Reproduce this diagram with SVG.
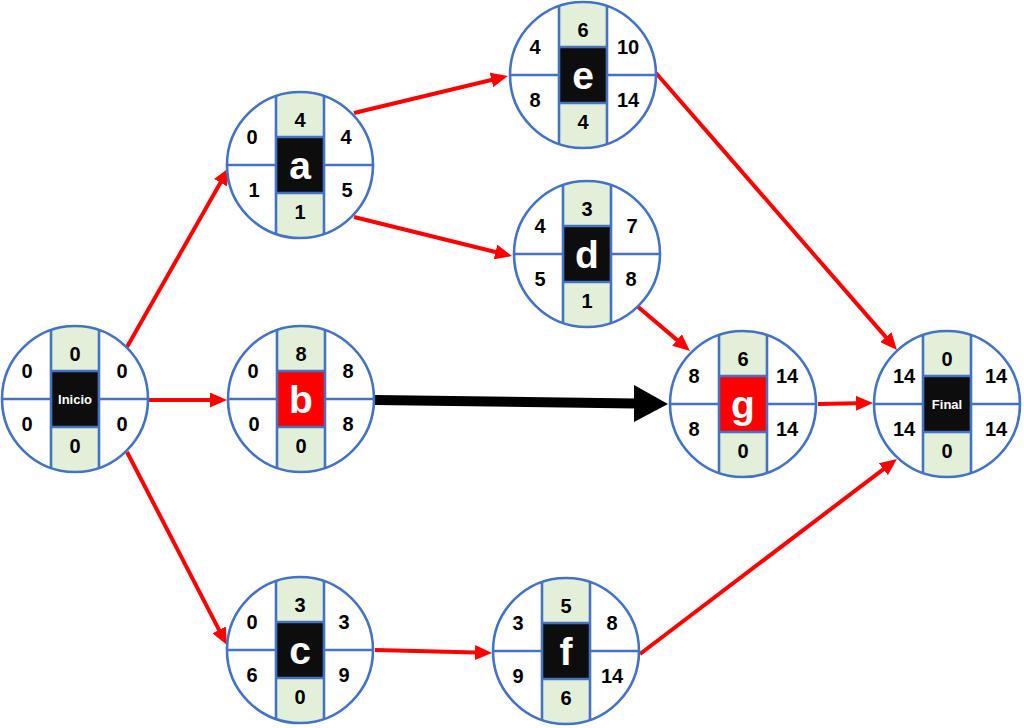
<svg xmlns="http://www.w3.org/2000/svg" xmlns:xlink="http://www.w3.org/1999/xlink" width="1024" height="728" viewBox="0 0 1024 728">
<style>
.bl{stroke:#4472C4;stroke-width:2.6;fill:none}
.num{font-family:"Liberation Sans",Arial,sans-serif;font-weight:bold;font-size:20px;fill:#000;text-anchor:middle}
.lab{font-family:"Liberation Sans",Arial,sans-serif;font-weight:bold;font-size:39px;fill:#fff;text-anchor:middle}
.sml{font-family:"Liberation Sans",Arial,sans-serif;font-weight:bold;font-size:13px;fill:#fff;text-anchor:middle}
.box{fill:#0D0D0D}
.crit{fill:#FF0000}
.edge{stroke:#FF0000;stroke-width:4;fill:none;marker-end:url(#ah)}
</style>
<defs>
<clipPath id="cc" clipPathUnits="userSpaceOnUse"><circle cx="0" cy="0" r="73"/></clipPath>
<marker id="ah" markerUnits="userSpaceOnUse" markerWidth="17" markerHeight="15" viewBox="0 0 17 15" refX="1" refY="7.5" orient="auto"><path d="M0,0 L17,7.5 L0,15 z" fill="#FF0000"/></marker>
<g id="base"><circle r="73" fill="#fff"/><rect x="-24" y="-74" width="48" height="148" fill="#E2F0D9" clip-path="url(#cc)"/></g>
<g id="lines" class="bl"><path d="M-73,0H-24M24,0H73M-24,-68.9V68.9M24,-68.9V68.9M-24,-28H24M-24,28H24"/><circle r="73"/></g>
</defs>
<g id="connectors">
<path class="edge" d="M127,347 L221,181.8"/>
<path class="edge" d="M354,113 L492.4,79.7"/>
<path class="edge" d="M354,217 L496.5,252.2"/>
<path class="edge" d="M148,400 L211,400"/>
<path class="edge" d="M127,452 L219.6,630.8"/>
<path class="edge" d="M637,306 L677.8,340.6"/>
<path class="edge" d="M656,73 L886.5,337.9"/>
<path class="edge" d="M818,404 L857,403.3"/>
<path class="edge" d="M375,650 L476,652.6"/>
<path class="edge" d="M640,654 L884.2,468.6"/>
<path d="M375,400 L636,403.5" stroke="#000" stroke-width="10" fill="none"/>
<path d="M634,385 L668,404 L634,422 z" fill="#000"/>
</g>
<g id="inicio" transform="translate(75,399)">
<use xlink:href="#base"/><rect class="box" x="-24" y="-28" width="48" height="56"/><use xlink:href="#lines"/>
<text class="sml" x="0" y="5">Inicio</text>
<text class="num" x="-48" y="-21">0</text><text class="num" x="47" y="-21">0</text>
<text class="num" x="-48" y="32">0</text><text class="num" x="47" y="32">0</text>
<text class="num" x="0" y="-38">0</text><text class="num" x="0" y="54">0</text>
</g>
<g id="node-a" transform="translate(300,165)">
<use xlink:href="#base"/><rect class="box" x="-24" y="-28" width="48" height="56"/><use xlink:href="#lines"/>
<text class="lab" x="0" y="14">a</text>
<text class="num" x="-48" y="-21">0</text><text class="num" x="46" y="-21">4</text>
<text class="num" x="-46" y="32">1</text><text class="num" x="47" y="32">5</text>
<text class="num" x="0" y="-38">4</text><text class="num" x="0" y="54">1</text>
</g>
<g id="node-b" transform="translate(301,399)">
<use xlink:href="#base"/><rect class="crit" x="-24" y="-28" width="48" height="56"/><use xlink:href="#lines"/>
<text class="lab" x="0" y="14">b</text>
<text class="num" x="-48" y="-21">0</text><text class="num" x="47" y="-21">8</text>
<text class="num" x="-47" y="32">0</text><text class="num" x="47" y="32">8</text>
<text class="num" x="0" y="-38">8</text><text class="num" x="0" y="54">0</text>
</g>
<g id="node-c" transform="translate(300,650)">
<use xlink:href="#base"/><rect class="box" x="-24" y="-28" width="48" height="56"/><use xlink:href="#lines"/>
<text class="lab" x="0" y="14">c</text>
<text class="num" x="-48" y="-21">0</text><text class="num" x="44" y="-21">3</text>
<text class="num" x="-48" y="32">6</text><text class="num" x="44" y="32">9</text>
<text class="num" x="0" y="-38">3</text><text class="num" x="0" y="54">0</text>
</g>
<g id="node-e" transform="translate(583,75)">
<use xlink:href="#base"/><rect class="box" x="-24" y="-28" width="48" height="56"/><use xlink:href="#lines"/>
<text class="lab" x="0" y="14">e</text>
<text class="num" x="-48" y="-21">4</text><text class="num" x="45" y="-21">10</text>
<text class="num" x="-48" y="32">8</text><text class="num" x="45" y="32">14</text>
<text class="num" x="0" y="-38">6</text><text class="num" x="0" y="54">4</text>
</g>
<g id="node-d" transform="translate(587,254)">
<use xlink:href="#base"/><rect class="box" x="-24" y="-28" width="48" height="56"/><use xlink:href="#lines"/>
<text class="lab" x="0" y="14">d</text>
<text class="num" x="-47" y="-21">4</text><text class="num" x="45" y="-21">7</text>
<text class="num" x="-47" y="32">5</text><text class="num" x="44" y="32">8</text>
<text class="num" x="0" y="-38">3</text><text class="num" x="0" y="54">1</text>
</g>
<g id="node-f" transform="translate(566,651)">
<use xlink:href="#base"/><rect class="box" x="-24" y="-28" width="48" height="56"/><use xlink:href="#lines"/>
<text class="lab" x="0" y="14">f</text>
<text class="num" x="-48" y="-21">3</text><text class="num" x="46" y="-21">8</text>
<text class="num" x="-48" y="32">9</text><text class="num" x="46" y="32">14</text>
<text class="num" x="0" y="-38">5</text><text class="num" x="0" y="54">6</text>
</g>
<g id="node-g" transform="translate(743,404)">
<use xlink:href="#base"/><rect class="crit" x="-24" y="-28" width="48" height="56"/><use xlink:href="#lines"/>
<text class="lab" x="0" y="14">g</text>
<text class="num" x="-49" y="-21">8</text><text class="num" x="44" y="-21">14</text>
<text class="num" x="-49" y="32">8</text><text class="num" x="44" y="32">14</text>
<text class="num" x="0" y="-38">6</text><text class="num" x="0" y="54">0</text>
</g>
<g id="final" transform="translate(947,404)">
<use xlink:href="#base"/><rect class="box" x="-24" y="-28" width="48" height="56"/><use xlink:href="#lines"/>
<text class="sml" x="0" y="5">Final</text>
<text class="num" x="-43" y="-21">14</text><text class="num" x="49" y="-21">14</text>
<text class="num" x="-43" y="32">14</text><text class="num" x="49" y="32">14</text>
<text class="num" x="0" y="-38">0</text><text class="num" x="0" y="54">0</text>
</g>
</svg>
